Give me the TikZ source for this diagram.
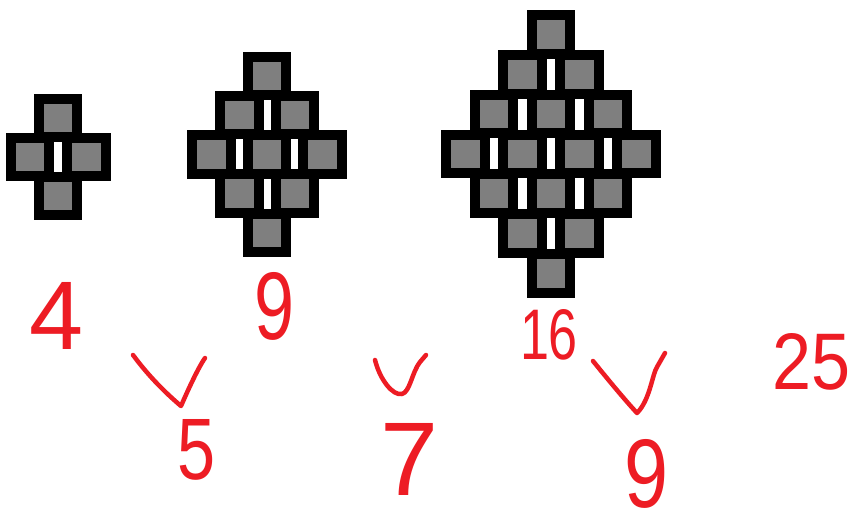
\documentclass[tikz,border=0pt]{standalone}
\usepackage{fontspec}
\setmainfont{Liberation Sans}
\definecolor{paintred}{RGB}{237,28,36}
\definecolor{paintgray}{RGB}{127,127,127}
\begin{document}
\begin{tikzpicture}[x=1pt,y=-1pt,
  sq/.style={rectangle, draw=black, fill=paintgray, line width=10pt, minimum size=38.5pt, inner sep=0pt, outer sep=0pt},
  digit/.style={text=paintred, inner sep=0pt},
  tick/.style={draw=paintred, line width=4.5pt, line cap=round, line join=round}]
\useasboundingbox (0,0) rectangle (854,523);
\fill[white] (0,0) rectangle (854,523);
\foreach \fig/\m/\cx/\ty/\hp/\vp in {a/2/58/118/56.5/39, b/3/267/76/55.5/39.2, c/4/551/34.5/57/39.8} {
  \pgfmathtruncatemacro\nr{2*\m-2}
  \foreach \rw in {0,...,\nr} {
    \pgfmathtruncatemacro\cnt{\m-abs(\rw-(\m-1))}
    \pgfmathtruncatemacro\cm{\cnt-1}
    \foreach \k in {0,...,\cm} {
      \node[sq] (\fig-\rw-\k) at ({\cx+(\k-(\cnt-1)/2)*\hp},{\ty+\rw*\vp}) {};
    }
  }
}
% numbers
\node[digit] (n4)  at (57,316)  {\resizebox{54pt}{67pt}{4}};
\node[digit] (n9)  at (275,306) {\resizebox{40pt}{67pt}{9}};
\node[digit] (n5)  at (197,450) {\resizebox{38pt}{60pt}{5}};
\node[digit] (n7)  at (410,459) {\resizebox{58pt}{72pt}{7}};
\node[digit] (n16) at (549,335) {\resizebox{58pt}{50pt}{16}};
\node[digit] (n9b) at (647,474) {\resizebox{44pt}{68pt}{9}};
\node[digit] (n25) at (812,362) {\resizebox{78pt}{56pt}{25}};
% check marks
\draw[tick] (133,355) .. controls (150,378) and (168,395) .. (181,406) .. controls (188,390) and (198,368) .. (205,358);
\draw[tick] (375,360) .. controls (380,380) and (393,396) .. (402,394) .. controls (410,392) and (412,372) .. (420,362) -- (426,355);
\draw[tick] (593,361) .. controls (610,382) and (625,400) .. (637,413) .. controls (650,400) and (652,375) .. (657,367) -- (665,353);
\end{tikzpicture}
\end{document}
